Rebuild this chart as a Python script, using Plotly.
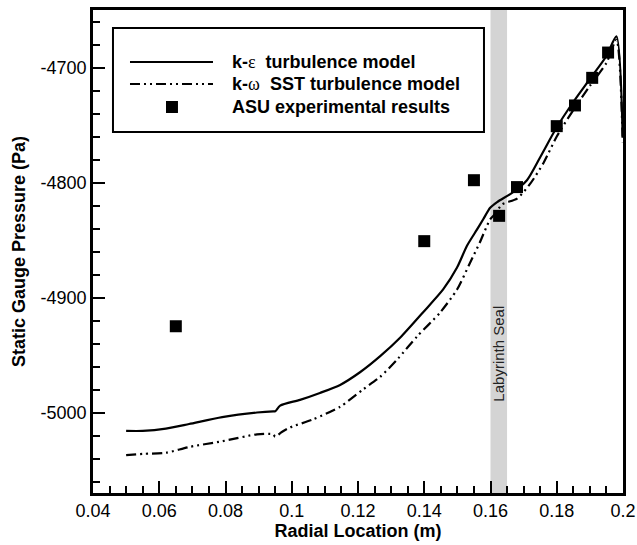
import plotly.graph_objects as go

# ---- data ----
ke_x = [0.050, 0.055, 0.062, 0.069, 0.079, 0.0895, 0.0944, 0.0950, 0.0965, 0.1025,
        0.1085, 0.1146, 0.1206, 0.1267, 0.1327, 0.1396, 0.1457, 0.1499, 0.1529, 0.1559,
        0.1578, 0.1599, 0.1620, 0.1665, 0.1710, 0.1750, 0.1800, 0.1850, 0.1900, 0.1950,
        0.1980, 0.1999]
ke_y = [-5016, -5016, -5014, -5010, -5004, -5000, -4999, -4999, -4994, -4989,
        -4983, -4976, -4965, -4951, -4935, -4913, -4893, -4874, -4855, -4841,
        -4832, -4822, -4817, -4809, -4798, -4778, -4752, -4730, -4710, -4690,
        -4673, -4760]

kw_x = [0.050, 0.055, 0.062, 0.069, 0.079, 0.0895, 0.0944, 0.0950, 0.0970, 0.0995,
        0.1064, 0.1146, 0.1215, 0.1267, 0.1321, 0.1378, 0.1448, 0.1499, 0.1538, 0.1568,
        0.1599, 0.1615, 0.1635, 0.1680, 0.1720, 0.1760, 0.1800, 0.1850, 0.1900, 0.1950,
        0.1980, 0.1999]
kw_y = [-5037, -5036, -5035, -5030, -5025, -5019, -5019, -5021, -5017, -5013,
        -5006, -4995, -4980, -4969, -4953, -4934, -4913, -4893, -4870, -4852,
        -4832, -4827, -4819, -4814, -4801, -4783, -4760, -4737, -4716, -4696,
        -4676, -4765]

asu_x = [0.065, 0.140, 0.155, 0.1626, 0.168, 0.180, 0.1855, 0.1907, 0.1955]
asu_y = [-4925, -4851, -4798, -4829, -4804, -4751, -4733, -4709, -4687]

seal_x = [0.160, 0.165]

x_ticks = [0.04, 0.06, 0.08, 0.10, 0.12, 0.14, 0.16, 0.18, 0.20]
x_ticktext = ["0.04", "0.06", "0.08", "0.1", "0.12", "0.14", "0.16", "0.18", "0.2"]
y_ticks = [-5000, -4900, -4800, -4700]
y_ticktext = ["-5000", "-4900", "-4800", "-4700"]

legend_labels = [
    "k-<span style='font-weight:normal;font-family:Liberation Serif'>ε</span>\u00a0 turbulence model",
    "k-<span style='font-weight:normal;font-family:Liberation Serif'>ω</span>\u00a0 SST turbulence model",
    "ASU experimental results",
]

FONT = "Arial, Liberation Sans, sans-serif"
DASH = "10px,4px,2px,4px,2px,4px"

fig = go.Figure()
fig.add_trace(go.Scatter(x=ke_x, y=ke_y, mode="lines", name="k-ε turbulence model",
                         line=dict(color="black", width=2.2, shape="spline", smoothing=0.7),
                         showlegend=False))
fig.add_trace(go.Scatter(x=kw_x, y=kw_y, mode="lines", name="k-ω SST turbulence model",
                         line=dict(color="black", width=2.2, dash=DASH, shape="spline", smoothing=0.7),
                         showlegend=False))
fig.add_trace(go.Scatter(x=asu_x, y=asu_y, mode="markers", name="ASU experimental results",
                         marker=dict(symbol="square", size=12, color="black"), showlegend=False))

# Labyrinth seal band
fig.add_shape(type="rect", xref="x", yref="paper", x0=seal_x[0], x1=seal_x[1], y0=0, y1=1,
              fillcolor="#d4d4d4", line=dict(width=0), layer="below")
fig.add_annotation(x=sum(seal_x) / 2, y=-4949, xref="x", yref="y", text="Labyrinth Seal",
                   textangle=-90, showarrow=False, font=dict(family=FONT, size=15, color="#222"))

# Legend (drawn manually)
fig.add_shape(type="rect", xref="paper", yref="paper", x0=0.0377, x1=0.7377, y0=0.7474, y1=0.9627,
              line=dict(color="black", width=2), fillcolor="white")
ly = [0.8923, 0.8468, 0.7992]
fig.add_shape(type="line", xref="paper", yref="paper", x0=0.0698, x1=0.2264, y0=ly[0], y1=ly[0],
              line=dict(color="black", width=2.2))
fig.add_shape(type="line", xref="paper", yref="paper", x0=0.0698, x1=0.2264, y0=ly[1], y1=ly[1],
              line=dict(color="black", width=2.2, dash=DASH))
fig.add_shape(type="rect", xref="paper", yref="paper", xsizemode="pixel", ysizemode="pixel",
              xanchor=0.149, yanchor=ly[2], x0=-6, x1=6, y0=-6, y1=6,
              fillcolor="black", line=dict(width=0))
for lab, yy in zip(legend_labels, ly):
    fig.add_annotation(x=0.2585, y=yy, xref="paper", yref="paper", text="<b>" + lab + "</b>",
                       showarrow=False, xanchor="left", yanchor="middle",
                       font=dict(family=FONT, size=18, color="black"))

fig.update_layout(
    width=637, height=545,
    margin=dict(l=93, r=14, t=10, b=52, autoexpand=False),
    paper_bgcolor="white", plot_bgcolor="white",
    font=dict(family=FONT, size=18, color="black"),
)
fig.update_xaxes(
    range=[0.04, 0.2], tickmode="array", tickvals=x_ticks, ticktext=x_ticktext,
    ticks="inside", ticklen=12, tickwidth=2, tickcolor="black",
    minor=dict(ticks="inside", dtick=0.005, tick0=0.04, ticklen=7, tickwidth=1.5, tickcolor="black"),
    showline=True, linecolor="black", linewidth=2.5, mirror=True, showgrid=False, zeroline=False,
    tickfont=dict(size=18), automargin=False,
    title=dict(text="<b>Radial Location (m)</b>", font=dict(size=18), standoff=4),
)
fig.update_yaxes(
    range=[-5070, -4650], tickmode="array", tickvals=y_ticks, ticktext=y_ticktext,
    ticks="inside", ticklen=12, tickwidth=2, tickcolor="black",
    minor=dict(ticks="inside", dtick=20, tick0=-5000, ticklen=7, tickwidth=1.5, tickcolor="black"),
    showline=True, linecolor="black", linewidth=2.5, mirror=True, showgrid=False, zeroline=False,
    tickfont=dict(size=18), automargin=False,
    title=dict(text="<b>Static Gauge Pressure (Pa)</b>", font=dict(size=18), standoff=11),
)

fig.write_html("out.html")
